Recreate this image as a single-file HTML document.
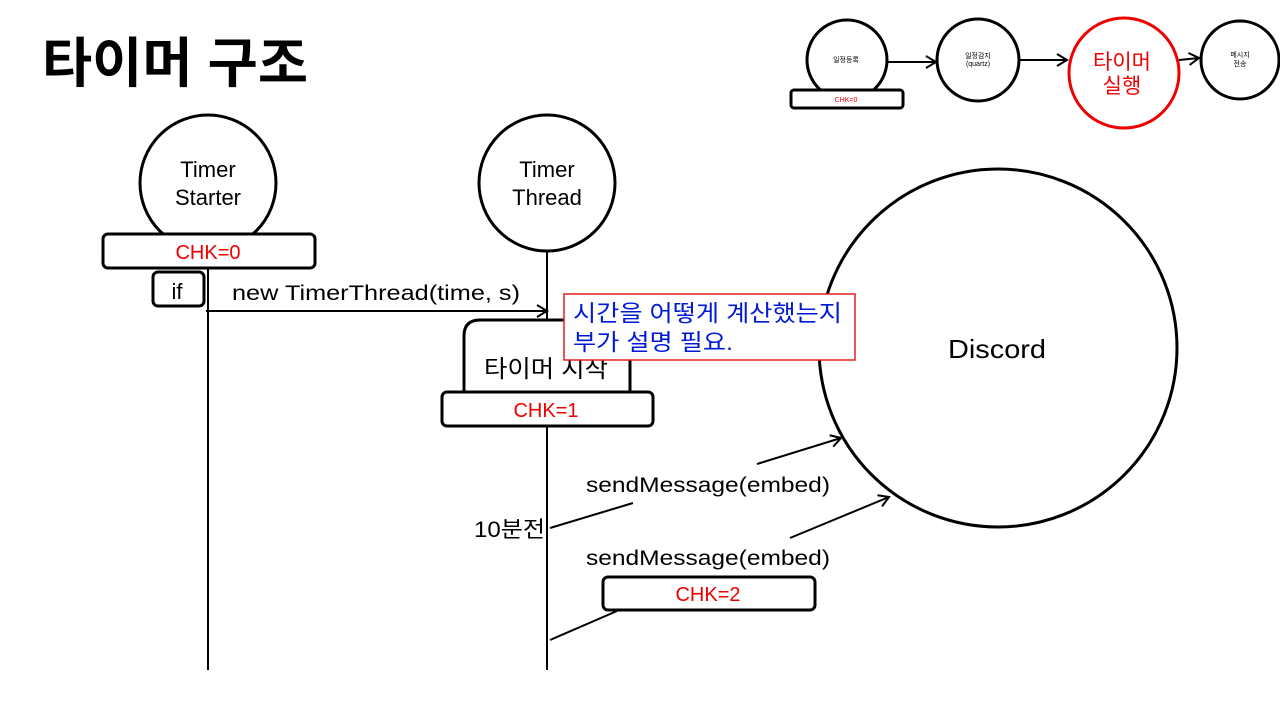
<!DOCTYPE html>
<html><head><meta charset="utf-8">
<style>
html,body{margin:0;padding:0;background:#fff;}
svg{display:block;}
text{font-family:"Liberation Sans","Noto Sans CJK KR",sans-serif;}
</style></head>
<body>
<svg width="1280" height="720" viewBox="0 0 1280 720" xmlns="http://www.w3.org/2000/svg">
<defs>
<marker id="ar" markerWidth="14" markerHeight="14" refX="11" refY="7" orient="auto" markerUnits="userSpaceOnUse">
<path d="M1,1 L11,7 L1,13" fill="none" stroke="#000" stroke-width="2"/>
</marker>
</defs>
<rect width="1280" height="720" fill="#fff"/>
<text x="42" y="82" font-size="54" font-weight="bold" fill="#000" textLength="266" lengthAdjust="spacingAndGlyphs">타이머 구조</text>

<!-- top right flow -->
<g fill="#fff" stroke="#000" stroke-width="3">
<circle cx="847" cy="60" r="40"/>
<rect x="791" y="90" width="112" height="18" rx="3"/>
<circle cx="978" cy="60" r="41"/>
<circle cx="1240" cy="60" r="39"/>
</g>
<circle cx="1124" cy="73" r="55" fill="#fff" stroke="#e00" stroke-width="3"/>
<g stroke="#000" stroke-width="2" fill="none">
<line x1="888" y1="62" x2="936" y2="62" marker-end="url(#ar)"/>
<line x1="1020" y1="60" x2="1067" y2="60" marker-end="url(#ar)"/>
<line x1="1179" y1="60" x2="1199" y2="58" marker-end="url(#ar)"/>
</g>
<g font-size="7" text-anchor="middle" fill="#000">
<text x="846" y="62">일정등록</text>
<text x="978" y="58">일정감지</text>
<text x="978" y="66">(quartz)</text>
<text x="1240" y="57">메시지</text>
<text x="1240" y="66">전송</text>
<text x="846" y="102" fill="#e00">CHK=0</text>
</g>
<text x="1122" y="69" font-size="21" text-anchor="middle" fill="#e00">타이머</text>
<text x="1122" y="93" font-size="21" text-anchor="middle" fill="#e00">실행</text>

<!-- lifelines -->
<g stroke="#000" stroke-width="2">
<line x1="208" y1="268" x2="208" y2="670"/>
<line x1="547" y1="251" x2="547" y2="320"/>
<line x1="547" y1="425" x2="547" y2="670"/>
</g>

<!-- Timer Starter -->
<circle cx="208" cy="183" r="68" fill="#fff" stroke="#000" stroke-width="3"/>
<text x="208" y="177" font-size="22" text-anchor="middle">Timer</text>
<text x="208" y="205" font-size="22" text-anchor="middle">Starter</text>
<rect x="103" y="234" width="212" height="34" rx="5" fill="#fff" stroke="#000" stroke-width="3"/>
<text x="208" y="259" font-size="20" text-anchor="middle" fill="#e00">CHK=0</text>
<rect x="153" y="272" width="51" height="34" rx="5" fill="#fff" stroke="#000" stroke-width="3"/>
<text x="177" y="299" font-size="22" text-anchor="middle">if</text>

<line x1="206" y1="311" x2="547" y2="311" stroke="#000" stroke-width="2" marker-end="url(#ar)"/>
<text x="232" y="300" font-size="21" textLength="288" lengthAdjust="spacingAndGlyphs">new TimerThread(time, s)</text>

<!-- Timer Thread -->
<circle cx="547" cy="183" r="68" fill="#fff" stroke="#000" stroke-width="3"/>
<text x="547" y="177" font-size="22" text-anchor="middle">Timer</text>
<text x="547" y="205" font-size="22" text-anchor="middle">Thread</text>

<path d="M464,394 L464,336 Q464,320 480,320 L630,320 L630,394" fill="#fff" stroke="#000" stroke-width="3"/>
<text x="484" y="377" font-size="24" textLength="124" lengthAdjust="spacingAndGlyphs">타이머 시작</text>
<rect x="442" y="392" width="211" height="34" rx="5" fill="#fff" stroke="#000" stroke-width="3"/>
<text x="546" y="417" font-size="20" text-anchor="middle" fill="#e00">CHK=1</text>

<!-- Discord -->
<circle cx="998" cy="348" r="179" fill="#fff" stroke="#000" stroke-width="3"/>
<text x="948" y="358" font-size="26" textLength="98" lengthAdjust="spacingAndGlyphs">Discord</text>

<!-- note -->
<rect x="564" y="294" width="291" height="66" fill="#fff" stroke="#e02020" stroke-width="1.5"/>
<text x="573" y="321" font-size="23" fill="#0018d8" textLength="269" lengthAdjust="spacingAndGlyphs">시간을 어떻게 계산했는지</text>
<text x="573" y="350" font-size="23" fill="#0018d8" textLength="160" lengthAdjust="spacingAndGlyphs">부가 설명 필요.</text>

<!-- messages -->
<g stroke="#000" stroke-width="2" fill="none">
<line x1="550" y1="528" x2="633" y2="503"/>
<line x1="757" y1="464" x2="841" y2="438" marker-end="url(#ar)"/>
<line x1="550" y1="640" x2="617" y2="611"/>
<line x1="790" y1="538" x2="889" y2="497" marker-end="url(#ar)"/>
</g>
<text x="586" y="492" font-size="21" textLength="244" lengthAdjust="spacingAndGlyphs">sendMessage(embed)</text>
<text x="586" y="565" font-size="21" textLength="244" lengthAdjust="spacingAndGlyphs">sendMessage(embed)</text>
<text x="474" y="537" font-size="22" textLength="71" lengthAdjust="spacingAndGlyphs">10분전</text>
<rect x="603" y="577" width="212" height="33" rx="5" fill="#fff" stroke="#000" stroke-width="3"/>
<text x="708" y="601" font-size="20" text-anchor="middle" fill="#e00">CHK=2</text>
</svg>
</body></html>
